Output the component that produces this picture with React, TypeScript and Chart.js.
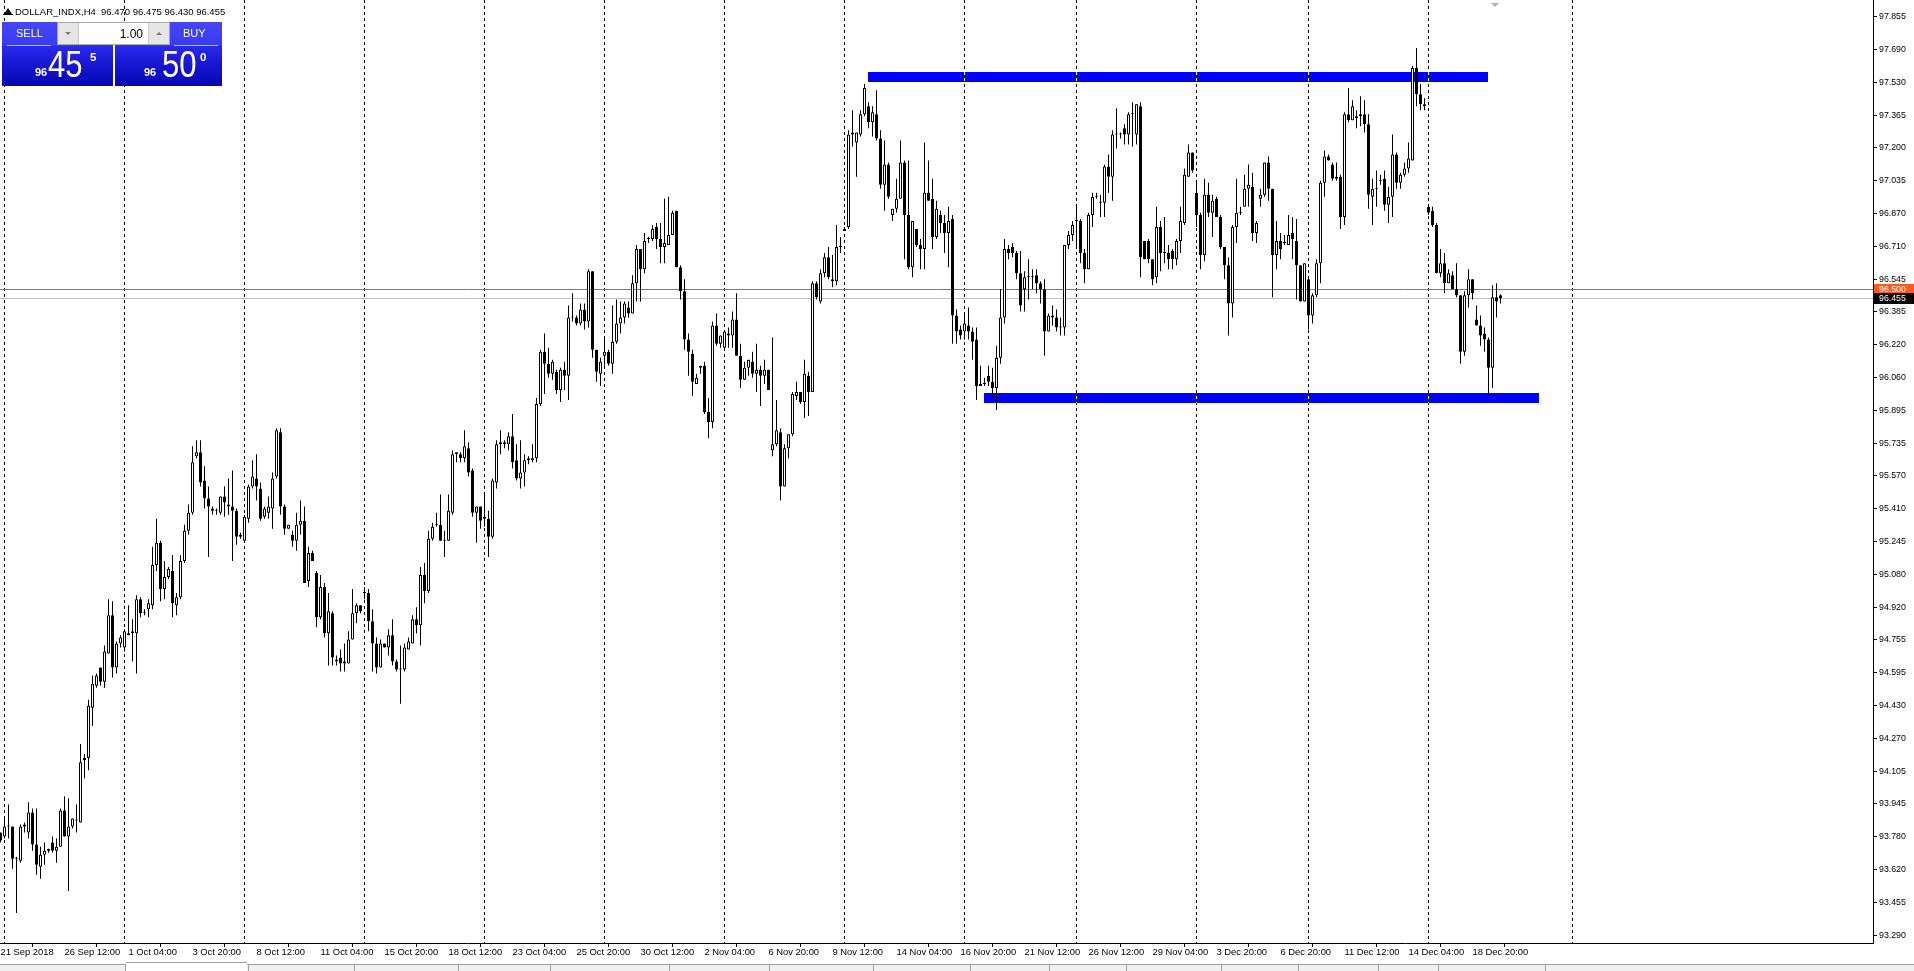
import React, { useEffect, useRef } from 'react';
import { Chart, registerables } from 'chart.js';

Chart.register(...registerables);

// ---------------- DATA (H4 bars, index 0 = 21 Sep 2018 20:00) ----------------
const opens = [
  93.80, 93.78, 93.83, 93.83, 93.67, 93.66, 93.83, 93.80, 93.90, 93.74,
  93.63, 93.69, 93.71, 93.75, 93.71, 93.73, 93.91, 93.78, 93.83, 93.86,
  93.85, 94.16, 94.17, 94.42, 94.53, 94.62, 94.55, 94.69, 94.88, 94.62,
  94.74, 94.72, 94.79, 94.79, 94.79, 94.96, 94.89, 94.91, 94.93, 95.13,
  95.24, 95.01, 95.07, 95.10, 94.93, 94.97, 95.15, 95.30, 95.39, 95.67,
  95.69, 95.55, 95.46, 95.41, 95.40, 95.39, 95.47, 95.43, 95.42, 95.40,
  95.27, 95.25, 95.36, 95.52, 95.56, 95.51, 95.37, 95.39, 95.41, 95.57,
  95.79, 95.42, 95.31, 95.28, 95.25, 95.33, 95.35, 95.05, 95.19, 95.09,
  94.87, 95.02, 94.79, 94.89, 94.66, 94.67, 94.65, 94.64, 94.76, 94.89,
  94.93, 94.99, 94.99, 94.85, 94.74, 94.62, 94.74, 94.72, 94.78, 94.65,
  94.61, 94.61, 94.71, 94.74, 94.86, 94.83, 95.08, 95.00, 95.26, 95.33,
  95.33, 95.25, 95.25, 95.39, 95.68, 95.68, 95.66, 95.71, 95.60, 95.39,
  95.42, 95.37, 95.36, 95.27, 95.54, 95.73, 95.74, 95.73, 95.77, 95.65,
  95.56, 95.59, 95.65, 95.65, 95.66, 95.93, 96.19, 96.13, 96.08, 96.09,
  96.00, 96.10, 96.07, 96.36, 96.36, 96.33, 96.40, 96.34, 96.59, 96.20,
  96.08, 96.17, 96.19, 96.13, 96.24, 96.33, 96.36, 96.41, 96.38, 96.53,
  96.70, 96.60, 96.75, 96.75, 96.81, 96.75, 96.71, 96.72, 96.77, 96.89,
  96.61, 96.49, 96.25, 96.18, 96.03, 96.11, 96.12, 95.89, 95.84, 96.32,
  96.23, 96.21, 96.28, 96.27, 96.35, 96.17, 96.05, 96.11, 96.14, 96.08,
  96.10, 96.07, 96.10, 95.70, 95.73, 95.79, 95.52, 95.71, 95.78, 95.97,
  95.99, 95.94, 96.07, 95.99, 96.53, 96.44, 96.58, 96.66, 96.55, 96.54,
  96.71, 96.79, 96.81, 97.28, 97.23, 97.27, 97.37, 97.41, 97.33, 97.37,
  97.25, 97.02, 97.12, 96.87, 96.90, 96.95, 97.13, 96.87, 96.61, 96.80,
  96.72, 96.70, 96.98, 96.95, 96.76, 96.87, 96.83, 96.78, 96.85, 96.37,
  96.30, 96.29, 96.32, 96.29, 96.25, 96.02, 96.03, 96.07, 96.04, 96.01,
  96.16, 96.36, 96.70, 96.71, 96.68, 96.58, 96.50, 96.56, 96.56, 96.57,
  96.53, 96.50, 96.29, 96.37, 96.36, 96.31, 96.31, 96.72, 96.77, 96.84,
  96.84, 96.68, 96.60, 96.87, 96.96, 96.93, 96.93, 97.11, 97.06, 97.27,
  97.27, 97.30, 97.27, 97.37, 97.27, 97.41, 96.74, 96.74, 96.65, 96.56,
  96.81, 96.68, 96.68, 96.69, 96.65, 96.74, 96.83, 97.06, 97.18, 96.98,
  96.87, 96.67, 96.97, 96.88, 96.95, 96.86, 96.71, 96.62, 96.43, 96.81,
  96.88, 96.91, 97.00, 97.01, 96.78, 96.95, 96.97, 97.13, 97.00, 96.67,
  96.74, 96.73, 96.72, 96.78, 96.74, 96.62, 96.44, 96.55, 96.37, 96.47,
  96.63, 97.03, 97.16, 97.12, 97.06, 97.06, 96.86, 97.37, 97.34, 97.35,
  97.36, 97.37, 97.32, 96.96, 97.00, 97.04, 97.05, 96.92, 96.96, 97.17,
  97.03, 97.07, 97.10, 97.14, 97.60, 97.47, 97.42, 96.91, 96.89, 96.82,
  96.58, 96.63, 96.53, 96.57, 96.50, 96.47, 96.19, 96.47, 96.55, 96.35,
  96.32, 96.28, 96.25, 96.11, 96.46, 96.47,
];

const highs = [
  93.80, 93.87, 93.94, 93.83, 93.68, 93.84, 93.85, 93.95, 93.92, 93.92,
  93.73, 93.75, 93.72, 93.78, 93.77, 93.92, 93.98, 93.97, 93.87, 93.94,
  94.24, 94.19, 94.46, 94.58, 94.59, 94.62, 94.73, 94.96, 94.95, 94.75,
  94.78, 94.81, 94.93, 94.86, 94.98, 94.97, 94.91, 94.96, 95.22, 95.36,
  95.25, 95.15, 95.12, 95.18, 94.99, 95.18, 95.33, 95.43, 95.72, 95.75,
  95.75, 95.62, 95.52, 95.42, 95.41, 95.47, 95.52, 95.56, 95.60, 95.41,
  95.29, 95.38, 95.53, 95.65, 95.68, 95.54, 95.42, 95.47, 95.59, 95.81,
  95.81, 95.43, 95.33, 95.30, 95.39, 95.45, 95.42, 95.22, 95.20, 95.10,
  95.08, 95.04, 94.99, 94.90, 94.68, 94.71, 94.74, 94.80, 95.01, 94.94,
  94.93, 95.02, 95.01, 94.91, 94.77, 94.76, 94.74, 94.81, 94.86, 94.66,
  94.73, 94.74, 94.77, 94.88, 94.92, 95.12, 95.14, 95.30, 95.34, 95.39,
  95.48, 95.30, 95.48, 95.70, 95.69, 95.69, 95.80, 95.74, 95.61, 95.42,
  95.42, 95.48, 95.40, 95.56, 95.75, 95.80, 95.75, 95.79, 95.88, 95.73,
  95.75, 95.68, 95.67, 95.73, 95.96, 96.20, 96.28, 96.21, 96.15, 96.10,
  96.11, 96.14, 96.42, 96.48, 96.37, 96.43, 96.43, 96.60, 96.59, 96.20,
  96.16, 96.26, 96.20, 96.42, 96.45, 96.44, 96.44, 96.44, 96.57, 96.72,
  96.70, 96.78, 96.76, 96.82, 96.83, 96.83, 96.95, 96.96, 96.89, 96.89,
  96.62, 96.55, 96.28, 96.20, 96.08, 96.12, 96.14, 95.96, 96.34, 96.38,
  96.27, 96.29, 96.31, 96.39, 96.48, 96.23, 96.14, 96.15, 96.19, 96.23,
  96.12, 96.15, 96.10, 96.26, 95.95, 95.81, 95.73, 95.78, 95.99, 96.04,
  95.99, 96.15, 96.09, 96.54, 96.54, 96.60, 96.68, 96.71, 96.67, 96.82,
  96.76, 96.81, 97.29, 97.39, 97.28, 97.39, 97.52, 97.43, 97.41, 97.49,
  97.29, 97.24, 97.13, 96.90, 97.05, 97.24, 97.14, 97.14, 96.84, 96.80,
  96.75, 97.23, 97.14, 97.05, 96.94, 96.89, 96.87, 96.91, 96.87, 96.40,
  96.32, 96.38, 96.41, 96.31, 96.31, 96.12, 96.06, 96.12, 96.11, 96.22,
  96.50, 96.75, 96.72, 96.73, 96.69, 96.69, 96.59, 96.65, 96.60, 96.60,
  96.54, 96.55, 96.38, 96.42, 96.40, 96.36, 96.72, 96.79, 96.84, 96.91,
  96.85, 96.70, 96.88, 96.98, 96.98, 96.97, 97.12, 97.17, 97.29, 97.40,
  97.28, 97.32, 97.38, 97.43, 97.42, 97.43, 96.74, 96.75, 96.65, 96.91,
  96.84, 96.86, 96.72, 96.70, 96.75, 96.91, 97.10, 97.22, 97.18, 97.03,
  96.88, 97.05, 97.03, 96.97, 96.96, 96.87, 96.71, 96.66, 96.82, 97.05,
  96.91, 97.07, 97.12, 97.08, 96.84, 97.00, 97.13, 97.16, 97.00, 96.84,
  96.78, 96.77, 96.87, 96.86, 96.85, 96.62, 96.63, 96.56, 96.48, 96.65,
  97.04, 97.19, 97.17, 97.13, 97.13, 97.07, 97.38, 97.50, 97.44, 97.39,
  97.46, 97.44, 97.37, 97.05, 97.09, 97.07, 97.09, 97.01, 97.27, 97.18,
  97.08, 97.13, 97.23, 97.61, 97.70, 97.52, 97.45, 96.91, 96.91, 96.83,
  96.70, 96.68, 96.60, 96.59, 96.63, 96.47, 96.49, 96.60, 96.55, 96.42,
  96.37, 96.31, 96.26, 96.52, 96.53, 96.475,
];

const lows = [
  93.75, 93.77, 93.77, 93.62, 93.40, 93.65, 93.80, 93.77, 93.71, 93.59,
  93.57, 93.64, 93.70, 93.70, 93.65, 93.73, 93.78, 93.51, 93.82, 93.80,
  93.85, 94.07, 94.11, 94.33, 94.52, 94.53, 94.52, 94.69, 94.57, 94.59,
  94.72, 94.70, 94.78, 94.65, 94.59, 94.87, 94.88, 94.87, 94.91, 95.10,
  94.95, 94.96, 95.06, 94.87, 94.88, 94.96, 95.14, 95.28, 95.38, 95.66,
  95.52, 95.41, 95.17, 95.38, 95.38, 95.38, 95.37, 95.38, 95.15, 95.23,
  95.26, 95.25, 95.34, 95.51, 95.45, 95.35, 95.36, 95.36, 95.31, 95.56,
  95.38, 95.28, 95.31, 95.22, 95.20, 95.28, 95.04, 95.02, 95.15, 94.82,
  94.86, 94.77, 94.63, 94.63, 94.63, 94.60, 94.60, 94.64, 94.76, 94.84,
  94.89, 94.96, 94.80, 94.60, 94.59, 94.62, 94.72, 94.68, 94.63, 94.60,
  94.44, 94.60, 94.71, 94.74, 94.79, 94.73, 94.94, 94.99, 95.25, 95.32,
  95.25, 95.17, 95.25, 95.38, 95.64, 95.64, 95.64, 95.57, 95.37, 95.24,
  95.31, 95.32, 95.17, 95.26, 95.51, 95.68, 95.71, 95.70, 95.61, 95.55,
  95.51, 95.52, 95.63, 95.64, 95.64, 95.92, 95.98, 96.06, 96.05, 95.98,
  95.94, 96.00, 95.95, 96.34, 96.32, 96.32, 96.30, 96.31, 96.16, 96.04,
  96.02, 96.12, 96.12, 96.08, 96.23, 96.28, 96.33, 96.36, 96.38, 96.44,
  96.44, 96.58, 96.73, 96.74, 96.70, 96.63, 96.63, 96.72, 96.77, 96.61,
  96.45, 96.20, 96.07, 95.97, 96.03, 96.08, 95.88, 95.76, 95.81, 96.22,
  96.21, 96.20, 96.21, 96.21, 96.17, 96.01, 96.05, 96.07, 96.06, 95.99,
  95.92, 96.03, 96.00, 95.67, 95.72, 95.45, 95.52, 95.66, 95.77, 95.95,
  95.93, 95.86, 95.87, 95.99, 96.45, 96.43, 96.56, 96.55, 96.51, 96.52,
  96.68, 96.79, 96.80, 97.21, 97.06, 97.26, 97.36, 97.30, 97.26, 97.24,
  97.00, 96.89, 96.95, 96.84, 96.88, 96.95, 96.65, 96.60, 96.56, 96.71,
  96.60, 96.60, 96.94, 96.70, 96.75, 96.78, 96.68, 96.61, 96.23, 96.23,
  96.25, 96.25, 96.25, 96.15, 95.95, 96.02, 96.02, 96.02, 95.96, 95.90,
  96.13, 96.33, 96.65, 96.66, 96.55, 96.39, 96.39, 96.45, 96.50, 96.48,
  96.43, 96.17, 96.29, 96.32, 96.29, 96.27, 96.27, 96.70, 96.74, 96.71,
  96.63, 96.53, 96.60, 96.81, 96.95, 96.86, 96.86, 96.98, 96.94, 97.20,
  97.25, 97.22, 97.22, 97.21, 97.22, 96.56, 96.65, 96.63, 96.52, 96.53,
  96.59, 96.63, 96.60, 96.60, 96.62, 96.68, 96.82, 97.06, 97.08, 96.81,
  96.60, 96.64, 96.86, 96.76, 96.86, 96.70, 96.55, 96.27, 96.36, 96.73,
  96.87, 96.91, 96.91, 96.74, 96.73, 96.91, 96.96, 96.94, 96.46, 96.60,
  96.65, 96.72, 96.72, 96.65, 96.45, 96.44, 96.44, 96.30, 96.33, 96.46,
  96.53, 96.96, 97.14, 97.04, 97.04, 96.80, 96.82, 97.33, 97.34, 97.30,
  97.31, 97.28, 96.90, 96.82, 96.91, 97.02, 96.89, 96.83, 96.86, 97.00,
  97.00, 97.06, 97.08, 97.14, 97.41, 97.39, 97.39, 96.87, 96.81, 96.58,
  96.56, 96.48, 96.53, 96.50, 96.46, 96.13, 96.17, 96.41, 96.45, 96.32,
  96.22, 96.19, 95.97, 96.01, 96.36, 96.43,
];

const closes = [
  93.76, 93.83, 93.83, 93.67, 93.67, 93.83, 93.84, 93.90, 93.74, 93.64,
  93.69, 93.71, 93.72, 93.71, 93.73, 93.91, 93.78, 93.83, 93.87, 93.86,
  94.15, 94.17, 94.43, 94.54, 94.58, 94.55, 94.70, 94.88, 94.62, 94.74,
  94.77, 94.80, 94.78, 94.80, 94.96, 94.89, 94.89, 94.94, 95.13, 95.24,
  95.01, 95.07, 95.11, 94.94, 94.97, 95.15, 95.30, 95.39, 95.64, 95.69,
  95.54, 95.46, 95.42, 95.40, 95.40, 95.47, 95.44, 95.42, 95.40, 95.27,
  95.28, 95.37, 95.52, 95.57, 95.52, 95.36, 95.41, 95.42, 95.56, 95.80,
  95.42, 95.31, 95.33, 95.25, 95.33, 95.35, 95.04, 95.19, 95.15, 94.87,
  95.02, 94.79, 94.90, 94.67, 94.65, 94.64, 94.64, 94.76, 94.89, 94.93,
  94.90, 94.99, 94.85, 94.74, 94.62, 94.74, 94.72, 94.78, 94.65, 94.61,
  94.61, 94.72, 94.75, 94.86, 94.83, 95.08, 95.00, 95.26, 95.32, 95.33,
  95.25, 95.25, 95.40, 95.68, 95.69, 95.66, 95.72, 95.59, 95.39, 95.42,
  95.35, 95.36, 95.27, 95.55, 95.73, 95.74, 95.73, 95.77, 95.64, 95.56,
  95.59, 95.65, 95.66, 95.66, 95.93, 96.19, 96.13, 96.08, 96.14, 96.00,
  96.10, 96.07, 96.36, 96.36, 96.33, 96.40, 96.34, 96.59, 96.20, 96.09,
  96.14, 96.19, 96.13, 96.24, 96.33, 96.36, 96.43, 96.38, 96.53, 96.70,
  96.60, 96.74, 96.75, 96.80, 96.75, 96.71, 96.73, 96.77, 96.88, 96.61,
  96.49, 96.25, 96.19, 96.04, 96.06, 96.12, 95.89, 95.84, 96.32, 96.23,
  96.27, 96.29, 96.27, 96.35, 96.17, 96.05, 96.11, 96.15, 96.08, 96.10,
  96.07, 96.10, 96.00, 95.73, 95.80, 95.52, 95.71, 95.78, 95.98, 95.99,
  95.94, 96.08, 95.99, 96.53, 96.46, 96.58, 96.66, 96.56, 96.54, 96.71,
  96.71, 96.80, 97.27, 97.27, 97.28, 97.37, 97.50, 97.33, 97.38, 97.25,
  97.02, 97.12, 96.96, 96.90, 96.95, 97.13, 96.87, 96.61, 96.84, 96.72,
  96.70, 96.98, 96.94, 96.76, 96.90, 96.83, 96.78, 96.84, 96.37, 96.29,
  96.27, 96.33, 96.29, 96.24, 96.02, 96.03, 96.03, 96.04, 96.01, 96.16,
  96.36, 96.70, 96.68, 96.68, 96.58, 96.42, 96.56, 96.56, 96.56, 96.53,
  96.50, 96.29, 96.37, 96.36, 96.31, 96.31, 96.72, 96.77, 96.82, 96.84,
  96.68, 96.60, 96.87, 96.96, 96.96, 96.93, 97.11, 97.06, 97.27, 97.27,
  97.27, 97.27, 97.37, 97.37, 97.42, 96.66, 96.65, 96.65, 96.55, 96.81,
  96.68, 96.68, 96.65, 96.65, 96.74, 96.84, 97.07, 97.18, 97.09, 96.87,
  96.67, 96.97, 96.88, 96.94, 96.86, 96.71, 96.62, 96.43, 96.81, 96.88,
  96.88, 97.00, 97.02, 96.78, 96.83, 96.97, 97.13, 97.00, 96.67, 96.74,
  96.70, 96.73, 96.77, 96.75, 96.62, 96.44, 96.63, 96.37, 96.47, 96.63,
  97.03, 97.16, 97.14, 97.05, 97.05, 96.86, 97.37, 97.34, 97.41, 97.36,
  97.37, 97.32, 96.97, 97.00, 97.00, 97.04, 96.92, 96.96, 97.17, 97.03,
  97.07, 97.10, 97.15, 97.60, 97.47, 97.42, 97.41, 96.88, 96.82, 96.58,
  96.63, 96.53, 96.58, 96.50, 96.47, 96.19, 96.47, 96.55, 96.48, 96.32,
  96.27, 96.25, 96.11, 96.46, 96.44, 96.455,
];

// time axis labels (one every 16 bars)
const xTickBars = [0, 16, 32, 48, 64, 80, 96, 112, 128, 144, 160, 176, 192, 208, 224, 240, 256, 272, 288, 304, 320, 336, 352, 368];
const xTickLabels = [
  '21 Sep 2018', '26 Sep 12:00', '1 Oct 04:00', '3 Oct 20:00', '8 Oct 12:00', '11 Oct 04:00',
  '15 Oct 20:00', '18 Oct 12:00', '23 Oct 04:00', '25 Oct 20:00', '30 Oct 12:00', '2 Nov 04:00',
  '6 Nov 20:00', '9 Nov 12:00', '14 Nov 04:00', '16 Nov 20:00', '21 Nov 12:00', '26 Nov 12:00',
  '29 Nov 04:00', '3 Dec 20:00', '6 Dec 20:00', '11 Dec 12:00', '14 Dec 04:00', '18 Dec 20:00',
];
// Monday 00:00 bars (weekly grid), last one in the empty future area
const weekStartBars = [1, 31, 61, 91, 121, 151, 181, 211, 241, 269, 299, 327, 357, 393];

const yTickLabels = [
  '97.855', '97.690', '97.530', '97.365', '97.200', '97.035', '96.870', '96.710', '96.545', '96.385',
  '96.220', '96.060', '95.895', '95.735', '95.570', '95.410', '95.245', '95.080', '94.920', '94.755',
  '94.595', '94.430', '94.270', '94.105', '93.945', '93.780', '93.620', '93.455', '93.290',
];

// drawn rectangle objects (bar index range, price range)
const rectStartBars = [216.9, 245.9];
const rectEndBars = [371.9, 384.6];
const rectTopPrices = [97.580, 95.985];
const rectBottomPrices = [97.530, 95.936];

const askPrice = 96.5;
const bidPrice = 96.455;
const askLabel = '96.500';
const bidLabel = '96.455';

const yMin = 93.251;
const yMax = 97.938;
const xMin = -0.125;
const xMax = 468.125;

const FONT = "'Liberation Sans', Arial, sans-serif";

const yTop = parseFloat(yTickLabels[0]);
const yBottom = parseFloat(yTickLabels[yTickLabels.length - 1]);
const yTickValues = yTickLabels.map((_, k) => yTop - (k * (yTop - yBottom)) / (yTickLabels.length - 1));

const mt4Plugin = {
  id: 'mt4Overlay',
  beforeDatasetsDraw(chart: any) {
    const { ctx, chartArea } = chart;
    const xs = chart.scales.x;
    const ys = chart.scales.y;
    const { left, right, top, bottom } = chartArea;
    ctx.save();
    ctx.beginPath();
    ctx.rect(left, top, right - left, bottom - top);
    ctx.clip();

    const drawGrid = (color: string) => {
      ctx.strokeStyle = color;
      ctx.lineWidth = 1;
      ctx.setLineDash([3, 3]);
      for (const b of weekStartBars) {
        const px = Math.floor(xs.getPixelForValue(b)) + 0.5;
        ctx.beginPath();
        ctx.moveTo(px, top);
        ctx.lineTo(px, bottom);
        ctx.stroke();
      }
      ctx.setLineDash([]);
    };
    drawGrid('#000000');

    // rectangles
    const rects: number[][] = [];
    for (let i = 0; i < rectStartBars.length; i++) {
      const x1 = Math.round(xs.getPixelForValue(rectStartBars[i]));
      const x2 = Math.round(xs.getPixelForValue(rectEndBars[i]));
      const y1 = Math.round(ys.getPixelForValue(rectTopPrices[i]));
      const y2 = Math.round(ys.getPixelForValue(rectBottomPrices[i]));
      rects.push([x1, y1, x2 - x1, y2 - y1]);
      ctx.fillStyle = '#0000ff';
      ctx.fillRect(x1, y1, x2 - x1, y2 - y1);
    }
    ctx.save();
    ctx.beginPath();
    for (const r of rects) ctx.rect(r[0], r[1], r[2], r[3]);
    ctx.clip();
    drawGrid('#ffff00');
    ctx.restore();

    // bid / ask lines
    const askY = Math.floor(ys.getPixelForValue(askPrice)) + 0.5;
    const bidY = Math.floor(ys.getPixelForValue(bidPrice)) + 0.5;
    ctx.lineWidth = 1;
    ctx.strokeStyle = '#c0c0c0';
    ctx.beginPath();
    ctx.moveTo(left, bidY);
    ctx.lineTo(right, bidY);
    ctx.stroke();
    ctx.strokeStyle = '#ff4a12';
    ctx.beginPath();
    ctx.moveTo(left, askY);
    ctx.lineTo(right, askY);
    ctx.stroke();
    ctx.restore();
  },
  afterDraw(chart: any) {
    const { ctx, chartArea } = chart;
    const ys = chart.scales.y;
    const drawBox = (price: number, label: string, bg: string) => {
      const cy = Math.floor(ys.getPixelForValue(price));
      const x = chartArea.right + 1;
      ctx.fillStyle = bg;
      ctx.fillRect(x, cy - 5, chart.width - x, 11);
      ctx.fillStyle = '#ffffff';
      ctx.font = `8.8px ${FONT}`;
      ctx.textBaseline = 'middle';
      ctx.textAlign = 'left';
      ctx.fillText(label, chartArea.right + 6, cy + 0.5);
    };
    drawBox(askPrice, askLabel, '#ff5a1e');
    drawBox(bidPrice, bidLabel, '#000000');
  },
};

function ChartCanvas() {
  const ref = useRef<HTMLCanvasElement | null>(null);
  useEffect(() => {
    if (!ref.current) return;
    const bodyData = opens.map((o, i) => ({ x: i, y: [o, closes[i]] }));
    const wickData = highs.map((h, i) => ({ x: i, y: [lows[i], h] }));
    const bodyColors = opens.map((o, i) => (closes[i] >= o ? '#ffffff' : '#000000'));
    const chart = new Chart(ref.current, {
      type: 'bar',
      data: {
        datasets: [
          {
            label: 'body',
            data: bodyData as any,
            barThickness: 3,
            grouped: false,
            backgroundColor: bodyColors,
            borderColor: '#000000',
            borderWidth: 1,
            borderSkipped: false,
            inflateAmount: 0,
            minBarLength: 1,
            order: 0,
          } as any,
          {
            label: 'wick',
            data: wickData as any,
            barThickness: 1,
            grouped: false,
            backgroundColor: '#000000',
            borderWidth: 0,
            inflateAmount: 0,
            order: 1,
          } as any,
        ],
      },
      options: {
        responsive: false,
        animation: false,
        devicePixelRatio: 1,
        events: [],
        layout: { padding: 0 },
        plugins: {
          legend: { display: false },
          tooltip: { enabled: false },
          title: { display: false },
        },
        scales: {
          x: {
            type: 'linear',
            position: 'bottom',
            min: xMin,
            max: xMax,
            offset: false,
            afterFit: (s: any) => { s.height = 28; s.paddingLeft = 0; s.paddingRight = 0; },
            afterBuildTicks: (s: any) => { s.ticks = xTickBars.map((v) => ({ value: v })); },
            ticks: {
              autoSkip: false,
              maxRotation: 0,
              minRotation: 0,
              align: 'start',
              padding: 0,
              color: '#000000',
              font: { family: FONT, size: 9.4 },
              callback: (_v: any, i: number) => xTickLabels[i],
            },
            grid: { drawOnChartArea: false, drawTicks: true, tickLength: 4, color: '#000000', lineWidth: 1 },
            border: { display: true, color: '#000000', width: 1 },
          },
          y: {
            type: 'linear',
            position: 'right',
            min: yMin,
            max: yMax,
            afterFit: (s: any) => { s.width = 41; s.paddingTop = 0; s.paddingBottom = 0; },
            afterBuildTicks: (s: any) => { s.ticks = yTickValues.map((v) => ({ value: v })); },
            ticks: {
              autoSkip: false,
              padding: 2,
              color: '#000000',
              font: { family: FONT, size: 8.8 },
              callback: (_v: any, i: number) => yTickLabels[i],
            },
            grid: { drawOnChartArea: false, drawTicks: true, tickLength: 4, color: '#000000', lineWidth: 1 },
            border: { display: true, color: '#000000', width: 1 },
          },
        },
      } as any,
      plugins: [mt4Plugin],
    });
    return () => chart.destroy();
  }, []);
  return (
    <canvas
      ref={ref}
      width={1914}
      height={971}
      style={{ position: 'absolute', left: 0, top: 0, width: 1914, height: 971 }}
    />
  );
}

const panelBg = 'linear-gradient(#4646f6 0%, #3a3af2 36%, #2a2aec 38%, #1a1ad8 60%, #0606b4 100%)';

function TradePanel() {
  const white = '#ffffff';
  return (
    <>
      <div style={{ position: 'absolute', left: 2, top: 22, width: 111, height: 64, background: panelBg }} />
      <div style={{ position: 'absolute', left: 115, top: 22, width: 107, height: 64, background: panelBg }} />
      <div style={{ position: 'absolute', left: 16, top: 28, fontSize: 11, lineHeight: '11px', color: white, fontFamily: FONT }}>SELL</div>
      <div style={{ position: 'absolute', left: 7, top: 45, width: 44, height: 1, background: '#b8b8ff' }} />
      <div style={{ position: 'absolute', left: 183, top: 28, fontSize: 11, lineHeight: '11px', color: white, fontFamily: FONT }}>BUY</div>
      <div style={{ position: 'absolute', left: 174, top: 45, width: 44, height: 1, background: '#b8b8ff' }} />
      {/* lot box */}
      <div style={{ position: 'absolute', left: 57, top: 22, width: 111, height: 21, background: '#ffffff', border: '1px solid #a8a8a8' }}>
        <div style={{ position: 'absolute', left: 0, top: 0, width: 20, height: 21, background: '#e6e6e6', borderRight: '1px solid #c8c8c8' }}>
          <div style={{ position: 'absolute', left: 7, top: 9, width: 0, height: 0, borderLeft: '3px solid transparent', borderRight: '3px solid transparent', borderTop: '3px solid #7a7a7a' }} />
        </div>
        <div style={{ position: 'absolute', right: 0, top: 0, width: 20, height: 21, background: '#e6e6e6', borderLeft: '1px solid #c8c8c8' }}>
          <div style={{ position: 'absolute', left: 7, top: 9, width: 0, height: 0, borderLeft: '3px solid transparent', borderRight: '3px solid transparent', borderBottom: '3px solid #7a7a7a' }} />
        </div>
        <div style={{ position: 'absolute', right: 26, top: 5, fontSize: 12, lineHeight: '12px', color: '#000', fontFamily: FONT }}>1.00</div>
      </div>
      {/* sell price */}
      <div style={{ position: 'absolute', left: 35, top: 67, fontSize: 11, lineHeight: '11px', fontWeight: 'bold', color: white, fontFamily: FONT }}>96</div>
      <div style={{ position: 'absolute', left: 48, top: 46, fontSize: 37, lineHeight: '37px', color: white, fontFamily: FONT, transform: 'scaleX(0.84)', transformOrigin: 'left top' }}>45</div>
      <div style={{ position: 'absolute', left: 90, top: 52, fontSize: 11.5, lineHeight: '11.5px', fontWeight: 'bold', color: white, fontFamily: FONT }}>5</div>
      {/* buy price */}
      <div style={{ position: 'absolute', left: 144, top: 67, fontSize: 11, lineHeight: '11px', fontWeight: 'bold', color: white, fontFamily: FONT }}>96</div>
      <div style={{ position: 'absolute', left: 162, top: 46, fontSize: 37, lineHeight: '37px', color: white, fontFamily: FONT, transform: 'scaleX(0.84)', transformOrigin: 'left top' }}>50</div>
      <div style={{ position: 'absolute', left: 200, top: 52, fontSize: 11.5, lineHeight: '11.5px', fontWeight: 'bold', color: white, fontFamily: FONT }}>0</div>
    </>
  );
}

const tabSeparators = [125, 248, 354, 458, 550, 669, 769, 873, 970, 1049, 1126, 1221, 1298, 1378, 1438, 1545];

function TabStrip() {
  return (
    <>
      <div style={{ position: 'absolute', left: 0, top: 964, width: 1914, height: 7, background: '#f0f0f0', borderTop: '1px solid #a0a0a0' }} />
      <div style={{ position: 'absolute', left: 126, top: 962, width: 121, height: 9, background: '#ffffff', borderTop: '1px solid #a0a0a0' }} />
      {tabSeparators.map((x) => (
        <div key={x} style={{ position: 'absolute', left: x, top: 964, width: 1, height: 7, background: '#a0a0a0' }} />
      ))}
    </>
  );
}

export default function App() {
  return (
    <div style={{ position: 'absolute', left: 0, top: 0, width: 1914, height: 971, background: '#ffffff', overflow: 'hidden' }}>
      <ChartCanvas />
      {/* header */}
      <div style={{ position: 'absolute', left: 4, top: 8, width: 0, height: 0, borderLeft: '4px solid transparent', borderRight: '4px solid transparent', borderBottom: '6px solid #000' }} />
      <div style={{ position: 'absolute', left: 3, top: 14, width: 10, height: 1, background: '#000' }} />
      <div style={{ position: 'absolute', left: 15, top: 6, fontSize: 9.5, lineHeight: '11px', color: '#000', fontFamily: FONT, whiteSpace: 'pre' }}>
        DOLLAR_INDX,H4  96.470 96.475 96.430 96.455
      </div>
      {/* chart shift marker */}
      <div style={{ position: 'absolute', left: 1491, top: 3, width: 0, height: 0, borderLeft: '4px solid transparent', borderRight: '4px solid transparent', borderTop: '4px solid #b4b4b4' }} />
      <TradePanel />
      <TabStrip />
    </div>
  );
}
